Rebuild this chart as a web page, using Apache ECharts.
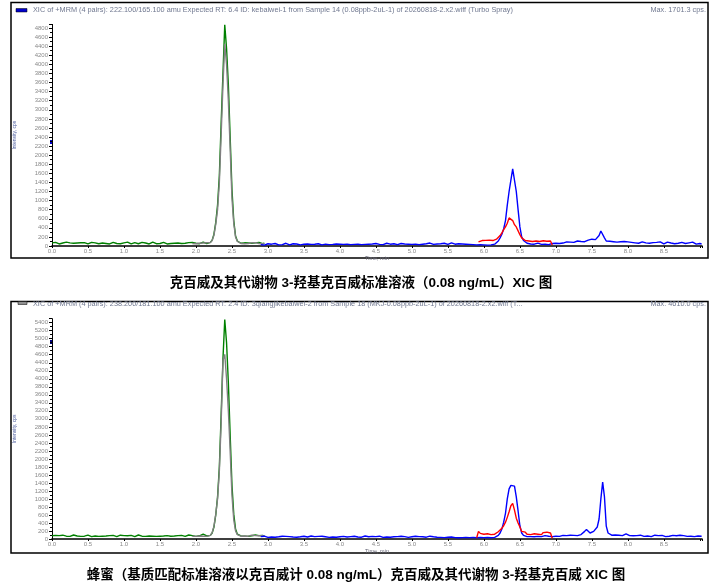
<!DOCTYPE html>
<html><head><meta charset="utf-8">
<script src="https://cdn.jsdelivr.net/npm/echarts@6/dist/echarts.min.js"></script>
<style>html,body{margin:0;padding:0;background:#fff}#c{width:720px;height:585px}</style>
</head><body><div id="c"></div>
<script>
// ---------- DATA (time step 0.025 min) ----------
const STEP = 0.025;
const xTicks = ['0.0','0.5','1.0','1.5','2.0','2.5','3.0','3.5','4.0','4.5','5.0','5.5','6.0','6.5','7.0','7.5','8.0','8.5'];

// Panel 1 (standard solution)
const p1GreenStart = 0.0;
const p1Green = [70,55,80,60,45,75,65,50,85,60,70,45,60,90,65,55,70,50,75,60,
 45,65,80,55,70,60,50,75,65,85,55,60,45,70,80,60,55,65,50,75,
 70,60,85,55,45,65,75,60,50,70,80,55,65,60,45,75,85,60,50,70,
 55,65,80,60,45,70,55,75,60,50,65,85,55,70,60,45,75,65,80,55,
 60,70,50,65,85,60,55,70,
 80,130,260,520,900,1550,2700,3800,4870,4350,3550,2400,1250,560,220,110,75,
 60,55,70,50,65,75,60,90,70,55,80,60,50,65];
const p1GrayStart = 1.95;
const p1Gray = [55,65,50,70,60,45,65,55,70,60,75,
 120,240,480,800,1400,2450,3550,4450,4000,3200,2150,1050,500,200,100,70,
 55,60,50,65,55,60,70,55,75,65,55,60,50,55];
const p1BlueStart = 2.9;
const p1Blue = [30,45,20,35,50,25,40,30,55,35,25,45,30,40,60,35,25,40,50,30,
 45,35,25,50,40,30,45,55,35,25,40,30,50,45,25,35,40,60,30,45,
 35,25,45,30,40,55,35,20,40,50,30,45,35,25,40,55,30,45,35,50,
 40,30,45,25,55,40,35,50,30,45,60,35,40,25,50,45,30,40,55,35,
 45,30,40,50,35,60,40,45,30,55,40,35,50,45,65,40,35,55,45,30,
 50,40,60,45,35,55,70,45,40,60,50,35,45,65,40,30,35,25,30,20,
 25,15,30,20,25,15,20,30,25,35,40,
 60,110,180,260,380,560,900,1200,1450,1700,1700,1200,800,420,200,120,80,60,
 55,45,60,40,50,65,45,35,55,40,50,30,45,55,40,60,70,55,80,65,
 75,90,70,85,100,80,95,110,85,100,120,95,90,130,105,150,120,140,160,230,
 330,320,180,110,90,105,80,95,110,85,70,95,80,100,75,90,110,80,95,70,
 85,60,75,90,55,70,85,60,50,75,65,80,55,90,60,45,70,85,55,65,
 75,50,90,60,45,80,65,55,95,70,50,85,60,40,70,55,45];
const p1RedStart = 5.925;
const p1Red = [90,100,120,130,125,135,130,110,120,140,150,170,230,290,360,420,500,620,600,560,
 470,420,380,250,180,150,120,130,110,125,100,130,110,120,100,125,115,130,105,120,110,20];

// Panel 2 (honey, matrix-matched)
const p2GreenStart = 0.0;
const p2Green = [80,65,90,70,85,60,95,75,70,85,65,80,100,70,75,90,65,85,70,80,
 95,70,60,85,75,90,65,80,70,100,75,65,85,70,90,80,60,75,95,70,
 85,65,80,75,90,70,60,85,100,75,70,90,65,80,75,85,70,95,65,80,
 70,90,75,65,85,80,70,95,75,60,85,70,90,80,65,75,100,70,85,75,
 65,90,80,70,120,85,75,90,
 90,150,300,600,1050,1800,3100,4500,5480,4900,3900,2600,1350,620,250,120,85,
 75,90,70,85,65,95,80,70,100,75,85,65,90,70];
const p2GrayStart = 1.95;
const p2Gray = [70,85,65,80,75,90,70,80,65,85,90,
 160,320,620,1000,1700,2900,4450,4610,4000,3200,2200,1100,480,200,110,80,
 70,85,75,90,70,80,95,75,85,70,80,75,85,70];
const p2BlueStart = 2.9;
const p2Blue = [60,45,70,55,40,65,50,75,45,60,55,40,70,50,65,45,60,80,50,55,
 45,65,55,40,70,60,50,45,75,55,60,40,65,50,70,45,55,60,40,65,
 50,70,45,60,55,40,65,75,50,45,60,55,70,40,50,65,45,60,75,50,
 55,40,65,50,60,45,70,55,40,60,50,65,45,75,55,40,60,50,70,45,
 60,50,40,65,55,45,70,50,60,40,55,65,45,50,70,40,55,60,45,50,
 40,55,35,50,45,30,50,40,35,45,30,40,35,25,40,30,35,25,40,30,
 35,30,40,25,35,30,40,35,30,45,40,
 50,90,150,250,420,640,1000,1250,1340,1350,1320,1050,700,330,150,90,70,60,
 70,60,75,55,80,65,70,60,75,85,65,70,80,60,75,70,85,65,80,90,
 75,85,70,95,80,90,105,85,95,110,140,190,240,210,150,170,190,230,300,500,
 1000,1420,1050,320,150,110,95,85,100,80,95,110,85,120,130,95,85,100,80,90,
 85,70,95,80,65,90,75,85,60,80,95,70,85,65,90,75,60,85,70,80,
 90,65,80,70,95,60,85,75,65,90,70,80,60,85,75,65,70];
const p2RedStart = 5.9;
const p2Red = [30,190,140,170,120,160,130,150,110,140,120,150,180,220,270,330,420,540,680,830,
 890,720,520,400,300,190,150,170,120,160,110,150,130,170,120,140,110,160,120,170,130,150,20];

const header1 = 'XIC of +MRM (4 pairs): 222.100/165.100 amu Expected RT: 6.4 ID: kebaiwei-1 from Sample 14 (0.08ppb-2uL-1) of 20260818-2.x2.wiff (Turbo Spray)';
const header2 = 'XIC of +MRM (4 pairs): 238.200/181.100 amu Expected RT: 2.4 ID: 3qiangjikebaiwei-2 from Sample 18 (MKJ-0.08ppb-2uL-1) of 20260818-2.x2.wiff (T...';
const max1 = 'Max. 1701.3 cps.';
const max2 = 'Max. 4610.0 cps.';
const caption1 = '克百威及其代谢物 3-羟基克百威标准溶液（0.08 ng/mL）XIC 图';
const caption2 = '蜂蜜（基质匹配标准溶液以克百威计 0.08 ng/mL）克百威及其代谢物 3-羟基克百威 XIC 图';

// ---------- BUILD ----------
function pairs(start, vals){ return vals.map((v,i)=>[+(start+i*STEP).toFixed(3), v]); }
const FONT = 'Liberation Sans, Arial, sans-serif';
const lblColor = '#8a8a8a';

function xAx(gi){
  return {type:'value', gridIndex:gi, min:0, max:9.03, interval:0.5,
    name:'Time, min', nameLocation:'middle', nameGap:9,
    nameTextStyle:{fontSize:5.5, color:'#6a6a7a', fontFamily:FONT},
    axisLine:{lineStyle:{color:'#000', width:1.6}},
    axisTick:{length:2, lineStyle:{color:'#000'}},
    axisLabel:{fontSize:6, color:lblColor, margin:2, fontFamily:FONT,
      formatter:v=>{ const i = Math.round(v/0.5); return (i < xTicks.length && Math.abs(v - i*0.5) < 1e-6) ? xTicks[i] : ''; }},
    splitLine:{show:false}};
}
function yAx(gi, max){
  return {type:'value', gridIndex:gi, min:0, max:max, interval:200,
    name:'Intensity, cps', nameLocation:'middle', nameRotate:90, nameGap:35,
    nameTextStyle:{fontSize:5, color:'#5060a0', fontFamily:FONT},
    axisLine:{show:true, lineStyle:{color:'#000', width:1}},
    axisTick:{show:true, length:3, lineStyle:{color:'#000'}},
    minorTick:{show:true, splitNumber:2, length:2, lineStyle:{color:'#000'}},
    axisLabel:{fontSize:6, color:lblColor, margin:4, fontFamily:FONT, showMinLabel:true,
      formatter:v=> (v % 200 === 0) ? String(v) : ''},
    splitLine:{show:false}};
}
function line(gi, start, vals, color){
  return {type:'line', xAxisIndex:gi, yAxisIndex:gi, data:pairs(start, vals),
    symbol:'none', silent:true, animation:false,
    lineStyle:{color:color, width:1.4}};
}
const CAPFONT = 'bold 13.5px "Liberation Sans", "Noto Sans CJK SC", sans-serif';
const HFONT = '7.3px ' + FONT;
const chart = echarts.init(document.getElementById('c'), null, {renderer:'canvas'});
chart.setOption({
  animation:false,
  backgroundColor:'#fff',
  grid:[{left:52, right:18, top:24.4, bottom:339},{left:52, right:18, top:318.7, bottom:46}],
  xAxis:[xAx(0), xAx(1)],
  yAxis:[yAx(0, 4880), yAx(1, 5500)],
  series:[
    line(0, p1GreenStart, p1Green, '#008000'),
    line(0, p1GrayStart, p1Gray, '#808080'),
    line(0, p1BlueStart, p1Blue, '#0000ff'),
    line(0, p1RedStart, p1Red, '#ff0000'),
    line(1, p2GreenStart, p2Green, '#008000'),
    line(1, p2GrayStart, p2Gray, '#808080'),
    line(1, p2BlueStart, p2Blue, '#0000ff'),
    line(1, p2RedStart, p2Red, '#ff0000')
  ],
  graphic:[
    {type:'rect', shape:{x:11, y:2.5, width:697, height:255.5}, style:{fill:'none', stroke:'#000', lineWidth:1.5}, silent:true},
    {type:'rect', shape:{x:11, y:301.5, width:697, height:251.5}, style:{fill:'none', stroke:'#000', lineWidth:1.5}, silent:true},
    {type:'rect', shape:{x:16, y:8.5, width:11, height:3.5}, style:{fill:'#0000cc', stroke:'#000', lineWidth:0.5}, silent:true},
    {type:'rect', shape:{x:18, y:301.5, width:9, height:3}, style:{fill:'#909090', stroke:'#000', lineWidth:0.5}, silent:true},
    {type:'rect', shape:{x:50, y:140, width:3, height:4}, style:{fill:'#0000cc'}, silent:true},
    {type:'rect', shape:{x:50, y:340, width:3, height:4}, style:{fill:'#000080'}, silent:true},
    {type:'text', x:33, y:10, style:{text:header1, font:HFONT, fill:'#707890', textVerticalAlign:'middle'}, silent:true},
    {type:'text', x:706, y:10, style:{text:max1, font:HFONT, fill:'#707890', textAlign:'right', textVerticalAlign:'middle'}, silent:true},
    {type:'text', x:33, y:304, style:{text:header2, font:HFONT, fill:'#707890', textVerticalAlign:'middle'}, silent:true},
    {type:'text', x:706, y:304, style:{text:max2, font:HFONT, fill:'#707890', textAlign:'right', textVerticalAlign:'middle'}, silent:true},
    {type:'text', x:361, y:283, style:{text:caption1, font:CAPFONT, fill:'#000', textAlign:'center', textVerticalAlign:'middle'}, silent:true},
    {type:'text', x:356, y:575, style:{text:caption2, font:CAPFONT, fill:'#000', textAlign:'center', textVerticalAlign:'middle'}, silent:true}
  ]
});
</script></body></html>
